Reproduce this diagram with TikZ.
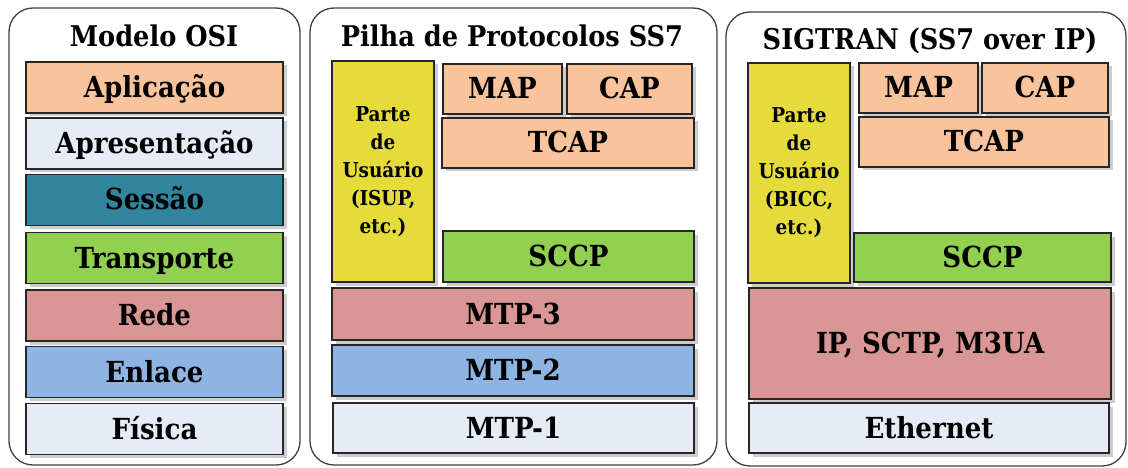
\documentclass[tikz,border=0pt]{standalone}
\usepackage{fontspec}
\setmainfont{DejaVu Serif Condensed}
\usetikzlibrary{shadows}

\definecolor{laranja}{HTML}{F9C49B}
\definecolor{clara}{HTML}{E6ECF6}
\definecolor{petroleo}{HTML}{31859C}
\definecolor{verde}{HTML}{92D050}
\definecolor{rosa}{HTML}{D99694}
\definecolor{azul}{HTML}{8EB4E3}
\definecolor{amarelo}{HTML}{E5DC3C}

\tikzset{
  painel/.style={draw=black!75, line width=1.3pt, rounded corners=24pt},
  titulo/.style={anchor=base, font=\fontsize{28.5}{34}\selectfont\bfseries},
  caixa/.style={draw=black!85, line width=1.6pt, inner sep=0pt,
    drop shadow={shadow xshift=3.5pt, shadow yshift=-3.5pt, fill=black!40}},
  camada/.style={caixa, font=\fontsize{29}{34}\selectfont\bfseries,
    text height=22pt, text depth=2pt},
  usuario/.style={caixa, fill=amarelo, align=center,
    font=\fontsize{20.5}{28}\selectfont\bfseries}
}

\begin{document}
\begin{tikzpicture}[x=1pt,y=-1pt]
\useasboundingbox (0,0) rectangle (1128,468);
%paineis
\draw[painel] (9,8) rectangle (300,465);
\draw[painel] (310,8) rectangle (717,465);
\draw[painel] (726,12) rectangle (1126,466);
\node[titulo] (tosi) at (154,47) {Modelo OSI};
\node[titulo] (tss7) at (512,47) {Pilha de Protocolos SS7};
\node[titulo] (tsig) at (930,50) {SIGTRAN (SS7 over IP)};
%modelo OSI
\foreach \nome/\cor/\y/\texto in {aplic/laranja/87.5/Aplicação,
  apres/clara/143.5/Apresentação, sessao/petroleo/200/Sessão,
  transp/verde/258/Transporte, rede/rosa/315.5/Rede,
  enlace/azul/372/Enlace, fisica/clara/429/Física}
{\node[camada, fill=\cor, minimum width=257, minimum height=51] (\nome) at (154.5,\y) {\texto};}
%SS7
\node[usuario, minimum width=102, minimum height=221] (usr1) at (383,171.5) {Parte\\de\\Usuário\\(ISUP,\\etc.)};
\node[camada, fill=laranja, minimum width=119, minimum height=50] (map1) at (502.5,89) {MAP};
\node[camada, fill=laranja, minimum width=125, minimum height=50] (cap1) at (629.5,89) {CAP};
\node[camada, fill=laranja, minimum width=252, minimum height=50] (tcap1) at (568,143) {TCAP};
\node[camada, fill=verde, minimum width=251, minimum height=51] (sccp1) at (568.5,256.5) {SCCP};
\node[camada, fill=rosa, minimum width=362, minimum height=52] (mtp3) at (513,314) {MTP-3};
\node[camada, fill=azul, minimum width=362, minimum height=51] (mtp2) at (513,370.5) {MTP-2};
\node[camada, fill=clara, minimum width=361, minimum height=50] (mtp1) at (513.5,428) {MTP-1};
%SIGTRAN
\node[usuario, minimum width=102, minimum height=220] (usr2) at (799,173) {Parte\\de\\Usuário\\(BICC,\\etc.)};
\node[camada, fill=laranja, minimum width=119, minimum height=50] (map2) at (918.5,88) {MAP};
\node[camada, fill=laranja, minimum width=126, minimum height=50] (cap2) at (1045,88) {CAP};
\node[camada, fill=laranja, minimum width=250, minimum height=50] (tcap2) at (984,142) {TCAP};
\node[camada, fill=verde, minimum width=257, minimum height=49] (sccp2) at (982.5,257.5) {SCCP};
\node[camada, fill=rosa, minimum width=362, minimum height=111] (ipm3) at (930,343.5) {IP, SCTP, M3UA};
\node[camada, fill=clara, minimum width=360, minimum height=50] (eth) at (929,428) {Ethernet};
\end{tikzpicture}
\end{document}
